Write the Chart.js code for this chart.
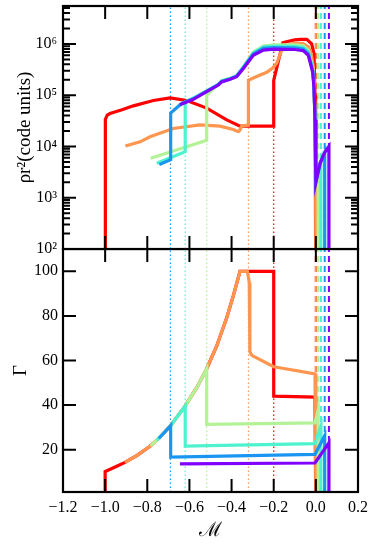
<!DOCTYPE html>
<html>
<head>
<meta charset="utf-8">
<script src="https://cdn.jsdelivr.net/npm/chart.js@4.4.1/dist/chart.umd.min.js"></script>
<style>
    body { margin: 0; background: #fff; }
    #wrap { position: relative; width: 374px; height: 547px; }
    canvas { position: absolute; left: 0; }
    #chartRho { top: 0; }
    #chartGamma { top: 248px; }
</style>
</head>
<body>
<div id="wrap">
    <canvas id="chartRho" width="374" height="264"></canvas>
    <canvas id="chartGamma" width="374" height="299"></canvas>
</div>
<script>
// tick positions
const machTicks = [-1.2, -1.0, -0.8, -0.6, -0.4, -0.2, 0.0, 0.2];
const rhoTicks = [1e2, 1e3, 1e4, 1e5, 1e6];
const gammaTicks = [20, 40, 60, 80, 100];

// shock positions (dotted) and downstream edges (dashed): red, orange, green, cyan, blue, purple
const shockM = [-0.2, -0.32, -0.518, -0.62, -0.69];
const edgeM = [0.0, 0.0, 0.011, 0.024, 0.042, 0.062];

// rho r^2 against M
const redRho = [[-1.0, 1e2], [-0.999, 3.4e4], [-0.99, 4.1e4], [-0.977, 4.4e4], [-0.92, 5.2e4], [-0.866, 6.2e4],
    [-0.771, 7.9e4], [-0.692, 8.9e4], [-0.613, 7.9e4], [-0.518, 5.6e4], [-0.423, 3.3e4], [-0.36, 2.5e4],
    [-0.2, 2.5e4], [-0.2, 1.95e5], [-0.157, 1.05e6], [-0.135, 1.12e6], [-0.1, 1.2e6], [-0.075, 1.23e6],
    [-0.043, 1.23e6], [-0.02, 1.0e6], [-0.009, 6.5e5], [-0.004, 1e5], [-0.001, 1e2]];
const orangeRho = [[-0.904, 1.02e4], [-0.834, 1.23e4], [-0.787, 1.55e4], [-0.677, 2.24e4], [-0.55, 2.63e4],
    [-0.455, 2.5e4], [-0.392, 2.14e4], [-0.368, 1.95e4], [-0.36, 2.1e4], [-0.352, 2.5e4], [-0.322, 2.6e4],
    [-0.32, 1.95e5], [-0.289, 2.24e5], [-0.233, 2.8e5], [-0.205, 3.4e5], [-0.186, 4.2e5], [-0.162, 7.6e5],
    [-0.138, 9.3e5], [-0.1, 1.04e6], [-0.06, 1.02e6], [-0.036, 8.8e5], [-0.022, 6.5e5], [-0.012, 3.5e5],
    [-0.005, 5e4], [-0.001, 3e3], [0.0, 1e2]];
const greenRho = [[-0.784, 5.9e3], [-0.518, 1.32e4], [-0.518, 1.0e5], [-0.463, 1.65e5], [-0.447, 1.92e5],
    [-0.407, 2.15e5], [-0.376, 2.42e5], [-0.344, 3.6e5], [-0.297, 6.9e5], [-0.249, 9.1e5], [-0.2, 9.6e5],
    [-0.1, 9.6e5], [-0.06, 9.2e5], [-0.036, 7.5e5], [-0.028, 5.6e5], [-0.015, 3.4e5], [-0.009, 1.7e5],
    [-0.004, 3.8e4], [0.0, 2.2e3], [0.011, 3.4e3], [0.011, 1e2]];
const cyanRho = [[-0.755, 4.7e3], [-0.62, 7.9e3], [-0.62, 7.4e4], [-0.582, 8.8e4], [-0.518, 1.22e5],
    [-0.463, 1.63e5], [-0.447, 1.9e5], [-0.407, 2.13e5], [-0.376, 2.4e5], [-0.344, 3.55e5], [-0.297, 6.7e5],
    [-0.249, 8.8e5], [-0.2, 9.1e5], [-0.1, 9.0e5], [-0.06, 8.6e5], [-0.036, 7.0e5], [-0.028, 5.3e5],
    [-0.015, 3.2e5], [-0.009, 1.6e5], [-0.004, 3.6e4], [0.0, 2.1e3], [0.024, 5.0e3], [0.024, 1e2]];
const blueRho = [[-0.743, 4.45e3], [-0.689, 5.5e3], [-0.689, 4.5e4], [-0.637, 6.9e4], [-0.582, 8.5e4],
    [-0.518, 1.2e5], [-0.463, 1.6e5], [-0.447, 1.86e5], [-0.407, 2.08e5], [-0.376, 2.34e5], [-0.344, 3.45e5],
    [-0.297, 6.4e5], [-0.249, 8.2e5], [-0.2, 8.5e5], [-0.1, 8.4e5], [-0.06, 8.0e5], [-0.036, 6.5e5],
    [-0.028, 4.9e5], [-0.015, 3.0e5], [-0.009, 1.5e5], [-0.004, 3.4e4], [0.0, 2.05e3], [0.02, 4.7e3],
    [0.042, 7.6e3], [0.042, 1e2]];
const purpleRho = [[-0.645, 6.5e4], [-0.582, 8.3e4], [-0.518, 1.17e5], [-0.463, 1.58e5], [-0.447, 1.82e5],
    [-0.407, 2.04e5], [-0.376, 2.29e5], [-0.344, 3.3e5], [-0.297, 6.0e5], [-0.249, 7.6e5], [-0.2, 7.9e5],
    [-0.1, 7.8e5], [-0.06, 7.4e5], [-0.036, 6.0e5], [-0.028, 4.5e5], [-0.015, 2.8e5], [-0.009, 1.45e5],
    [-0.004, 3.3e4], [0.0, 2.0e3], [0.02, 4.7e3], [0.04, 7.4e3], [0.062, 1.0e4], [0.062, 1e2]];

// Gamma against M
const redGamma = [[-1.0, 1], [-1.0, 10.2], [-0.95, 12.3], [-0.906, 14.3], [-0.85, 17.3], [-0.787, 21.5],
    [-0.748, 24.8], [-0.689, 30.8], [-0.621, 39.5], [-0.566, 47.7], [-0.518, 56.3], [-0.471, 66.4],
    [-0.423, 79.2], [-0.392, 88.9], [-0.36, 100], [-0.2, 100], [-0.2, 44.0], [-0.004, 43.6], [-0.001, 1]];
const orangeGamma = [[-0.906, 14.3], [-0.85, 17.3], [-0.787, 21.5], [-0.748, 24.8], [-0.689, 30.8],
    [-0.621, 39.5], [-0.566, 47.7], [-0.518, 56.3], [-0.471, 66.4], [-0.423, 79.2], [-0.392, 88.9],
    [-0.36, 100], [-0.325, 100], [-0.316, 95], [-0.313, 64], [-0.305, 62.4], [-0.297, 61.9],
    [-0.2, 57.2], [-0.004, 54.0], [0.0, 1]];
const greenGamma = [[-0.784, 21.7], [-0.748, 24.8], [-0.689, 30.8], [-0.621, 39.5], [-0.566, 47.7],
    [-0.518, 56.3], [-0.518, 31.3], [-0.004, 32.0], [0.011, 37.8], [0.011, 1]];
const cyanGamma = [[-0.755, 24.2], [-0.689, 30.8], [-0.62, 39.5], [-0.62, 21.6], [-0.004, 22.7],
    [0.024, 30.5], [0.024, 1]];
const blueGamma = [[-0.745, 25.0], [-0.689, 30.8], [-0.689, 16.7], [-0.004, 17.9], [0.042, 26.3], [0.042, 1]];
const purpleGamma = [[-0.645, 13.6], [-0.004, 14.0], [0.062, 23.0], [0.062, 1]];

const seriesRho = [redRho, orangeRho, greenRho, cyanRho, blueRho, purpleRho];
const seriesGamma = [redGamma, orangeGamma, greenGamma, cyanGamma, blueGamma, purpleGamma];
const colors = ["rgb(255,0,0)", "rgb(255,150,79)", "rgb(179,242,150)", "rgb(77,242,206)", "rgb(26,150,242)", "rgb(128,0,255)"];

const serif = "'Liberation Serif', 'DejaVu Serif', serif";
const sup = { "0": "⁰", "1": "¹", "2": "²", "3": "³", "4": "⁴", "5": "⁵", "6": "⁶", "7": "⁷", "8": "⁸", "9": "⁹" };

function toXY (pairs) {
    return pairs.map(p => ({ x: p[0], y: p[1] }));
}

function makeDatasets (series, yMin, yMax) {
    const sets = [];
    shockM.forEach((m, i) => sets.push({
        data: [{ x: m, y: yMin }, { x: m, y: yMax }],
        borderColor: colors[i], borderWidth: 1.2, borderDash: [1.5, 2.5], order: 20,
    }));
    // later series on top, so orange covers red at M = 0
    edgeM.forEach((m, i) => sets.push({
        data: [{ x: m, y: yMin }, { x: m, y: yMax }],
        borderColor: colors[i], borderWidth: 2, borderDash: [6, 4], order: 19 - i * 0.1,
    }));
    series.forEach((s, i) => sets.push({
        data: toXY(s),
        borderColor: colors[i], borderWidth: 3.2, order: 6 - i,
    }));
    return sets;
}

// no extra room for end labels, the panels must meet exactly
function fixPadding (s) {
    s.paddingTop = 0;
    s.paddingBottom = 0;
    s.paddingLeft = 0;
    s.paddingRight = 0;
}

// box + inward ticks, like the matplotlib frame
const framePlugin = {
    id: "frame",
    afterDraw (chart, args, opts) {
        const { ctx, chartArea: a, scales } = chart;
        ctx.save();
        ctx.strokeStyle = "#000";
        ctx.lineWidth = 2.2;
        ctx.strokeRect(a.left, a.top, a.right - a.left, a.bottom - a.top);
        ctx.lineWidth = 2;
        ctx.beginPath();
        machTicks.forEach(v => {
            const px = scales.x.getPixelForValue(v);
            ctx.moveTo(px, a.top); ctx.lineTo(px, a.top + 13);
            ctx.moveTo(px, a.bottom); ctx.lineTo(px, a.bottom - 13);
        });
        opts.major.forEach(v => {
            const py = scales.y.getPixelForValue(v);
            ctx.moveTo(a.left, py); ctx.lineTo(a.left + 13, py);
            ctx.moveTo(a.right, py); ctx.lineTo(a.right - 13, py);
        });
        (opts.minor || []).forEach(v => {
            const py = scales.y.getPixelForValue(v);
            ctx.moveTo(a.left, py); ctx.lineTo(a.left + 7, py);
            ctx.moveTo(a.right, py); ctx.lineTo(a.right - 7, py);
        });
        ctx.stroke();
        ctx.restore();
    },
};

const rhoMin = 1e2, rhoMax = 5.5e6;
const gammaMin = 1, gammaMax = 110;
const rhoMinor = [];
rhoTicks.forEach(d => {
    for (let m = 2; m <= 9; m++) if (d * m < rhoMax) rhoMinor.push(d * m);
});

// upper panel
new Chart(document.getElementById("chartRho"), {
    type: "line",
    data: { datasets: makeDatasets(seriesRho, rhoMin, rhoMax) },
    options: {
        responsive: false,
        animation: false,
        layout: { padding: { top: 6, right: 16, bottom: 15, left: 0 } },
        elements: { point: { radius: 0 }, line: { tension: 0, fill: false } },
        plugins: {
            legend: { display: false },
            tooltip: { enabled: false },
            frame: { major: rhoTicks, minor: rhoMinor },
        },
        scales: {
            x: { type: "linear", min: -1.2, max: 0.2, display: false },
            y: {
                type: "logarithmic", min: rhoMin, max: rhoMax,
                afterFit: s => { s.width = 63; fixPadding(s); },
                afterBuildTicks: s => { s.ticks = rhoTicks.map(v => ({ value: v })); },
                grid: { display: false, drawTicks: false },
                border: { display: false },
                ticks: {
                    autoSkip: false, padding: 6, color: "#000",
                    font: { family: serif, size: 16 },
                    callback: v => "10" + String(Math.round(Math.log10(v))).split("").map(c => sup[c]).join(""),
                },
                title: {
                    display: true, text: "ρr²(code units)", color: "#000",
                    font: { family: serif, size: 19 }, padding: { top: 14, bottom: 0 },
                },
            },
        },
    },
    plugins: [framePlugin],
});

// lower panel
new Chart(document.getElementById("chartGamma"), {
    type: "line",
    data: { datasets: makeDatasets(seriesGamma, gammaMin, gammaMax) },
    options: {
        responsive: false,
        animation: false,
        layout: { padding: { top: 1, right: 16, bottom: 0, left: 0 } },
        elements: { point: { radius: 0 }, line: { tension: 0, fill: false } },
        plugins: {
            legend: { display: false },
            tooltip: { enabled: false },
            frame: { major: gammaTicks },
        },
        scales: {
            x: {
                type: "linear", min: -1.2, max: 0.2,
                afterFit: s => { s.height = 55; fixPadding(s); },
                afterBuildTicks: s => { s.ticks = machTicks.map(v => ({ value: v })); },
                grid: { display: false, drawTicks: false },
                border: { display: false },
                ticks: {
                    autoSkip: false, maxRotation: 0, padding: 6, color: "#000",
                    font: { family: serif, size: 16 },
                    callback: v => v.toFixed(1).replace("-", "−"),
                },
                title: {
                    display: true, text: "ℳ", color: "#000",
                    font: { family: serif, size: 20 }, padding: { top: 0, bottom: 4 },
                },
            },
            y: {
                type: "linear", min: gammaMin, max: gammaMax,
                afterFit: s => { s.width = 63; fixPadding(s); },
                afterBuildTicks: s => { s.ticks = gammaTicks.map(v => ({ value: v })); },
                grid: { display: false, drawTicks: false },
                border: { display: false },
                ticks: {
                    autoSkip: false, padding: 5, color: "#000",
                    font: { family: serif, size: 16 },
                },
                title: {
                    display: true, text: "Γ", color: "#000",
                    font: { family: serif, size: 19 }, padding: { top: 10, bottom: 0 },
                },
            },
        },
    },
    plugins: [framePlugin],
});
</script>
</body>
</html>
